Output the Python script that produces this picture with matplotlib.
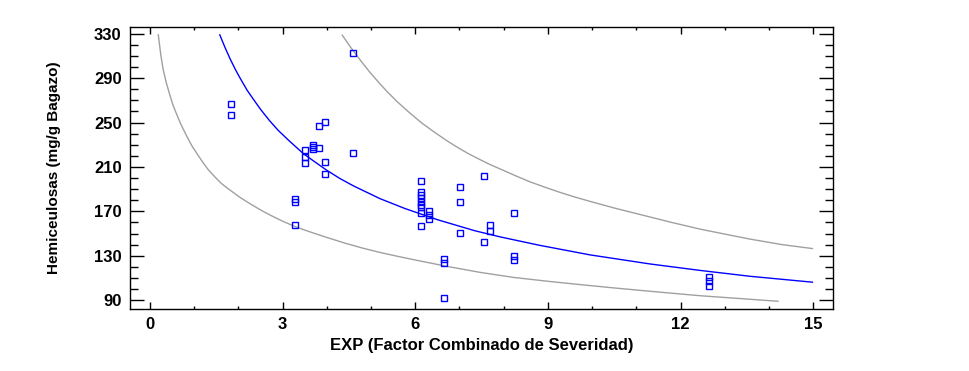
import matplotlib
matplotlib.use("Agg")
import matplotlib.pyplot as plt
from matplotlib.ticker import MultipleLocator

# observed points (EXP, hemicelulosas)
exp_obs = [1.84, 1.84,
           3.29, 3.29, 3.29,
           3.51, 3.51, 3.51,
           3.69, 3.69, 3.69,
           3.83, 3.83,
           3.97, 3.97, 3.97,
           4.60, 4.60,
           6.14, 6.14, 6.14, 6.14, 6.14, 6.14, 6.14, 6.14, 6.14,
           6.30, 6.30, 6.30,
           6.64, 6.64, 6.64,
           7.02, 7.02, 7.02,
           7.56, 7.56,
           7.68, 7.68,
           8.24, 8.24, 8.24,
           12.65, 12.65, 12.65]
hemi_obs = [266.8, 256.9,
            181.0, 178.0, 157.3,
            225.7, 219.0, 213.4,
            230.0, 227.8, 226.0,
            246.7, 227.5,
            250.9, 214.9, 203.5,
            312.7, 223.0,
            197.4, 187.3, 184.6, 181.9, 178.8, 176.0, 173.5, 168.2, 156.6,
            169.9, 166.3, 163.2,
            127.2, 123.6, 92.1,
            191.8, 178.0, 150.6,
            201.4, 142.2,
            157.3, 152.4,
            168.1, 129.9, 125.8,
            111.3, 107.4, 102.6]

# fitted model
fit_x = [1.58, 1.70, 1.81, 1.93, 2.04, 2.20, 2.34, 2.50, 2.71, 2.90, 3.15, 3.47,
         3.75, 4.00, 4.30, 4.60, 5.20, 5.77, 6.50, 7.35, 7.92, 8.80, 9.95, 11.31,
         12.44, 13.57, 14.98]
fit_y = [329.0, 317.5, 307.7, 298.0, 290.0, 279.0, 271.0, 262.0, 251.5, 243.0,
         233.5, 222.0, 214.0, 207.0, 199.5, 193.0, 181.5, 172.5, 162.5, 152.5,
         147.0, 139.5, 130.8, 122.6, 116.8, 111.5, 106.2]

# prediction limits
upper_x = [4.35, 4.50, 4.60, 4.80, 4.98, 5.20, 5.36, 5.60, 5.88, 6.15, 6.41, 6.70,
           6.94, 7.20, 7.47, 7.70, 7.96, 8.30, 8.60, 8.95, 9.28, 9.60, 9.95, 10.5,
           11.2, 11.8, 12.44, 13.0, 13.57, 14.3, 14.98]
upper_y = [328.7, 320.0, 314.5, 304.0, 295.0, 285.0, 278.0, 268.5, 258.5, 249.5,
           242.0, 234.0, 228.0, 222.0, 216.5, 212.0, 207.5, 201.5, 196.5, 191.5,
           187.0, 183.0, 179.0, 173.0, 166.0, 160.0, 154.0, 149.5, 145.0, 140.0,
           136.5]
lower_x = [0.19, 0.25, 0.30, 0.37, 0.45, 0.52, 0.60, 0.70, 0.83, 0.95, 1.09, 1.20,
           1.32, 1.47, 1.62, 1.80, 2.04, 2.30, 2.56, 2.80, 3.02, 3.30, 3.62, 4.00,
           4.40, 4.80, 5.20, 5.60, 5.96, 6.71, 7.47, 8.22, 9.00, 9.73, 10.5, 11.31,
           12.44, 13.57, 14.2]
lower_y = [329.0, 310.0, 298.0, 286.0, 275.0, 266.0, 258.0, 248.5, 238.0, 229.0,
           220.5, 214.0, 207.5, 201.0, 195.0, 189.5, 182.5, 176.0, 170.0, 165.0,
           160.8, 156.0, 151.5, 146.5, 141.5, 137.0, 133.0, 129.5, 126.5, 120.5,
           115.0, 110.5, 107.0, 104.0, 101.0, 98.0, 94.0, 90.8, 89.0]

x_ticks = [0, 3, 6, 9, 12, 15]
y_ticks = [90, 130, 170, 210, 250, 290, 330]

plt.rcParams['font.family'] = ['Liberation Sans', 'DejaVu Sans']

fig = plt.figure(figsize=(9.7, 3.71), dpi=100)
ax = fig.add_axes([0.134, 0.167, 0.725, 0.760])

ax.plot(upper_x, upper_y, color='#a0a0a0', lw=1.0)
ax.plot(lower_x, lower_y, color='#a0a0a0', lw=1.0)
ax.plot(fit_x, fit_y, color='#0000ff', lw=1.0)
ax.plot(exp_obs, hemi_obs, ls='none', marker='s', markersize=4,
        markerfacecolor='none', markeredgecolor='#0000ff', markeredgewidth=1.0)

ax.set_xlim(-0.45, 15.45)
ax.set_ylim(82, 336)
ax.set_xticks(x_ticks)
ax.set_yticks(y_ticks)
ax.xaxis.set_minor_locator(MultipleLocator(1))
ax.yaxis.set_minor_locator(MultipleLocator(10))

ax.tick_params(which='both', direction='in', top=True, right=True,
               labelsize=12, width=1.0)
ax.tick_params(axis='y', which='major', length=10, pad=6)
ax.tick_params(axis='y', which='minor', length=6)
ax.tick_params(axis='x', which='major', length=5, pad=6)
ax.tick_params(axis='x', which='minor', length=2.5)
for lab in ax.get_xticklabels() + ax.get_yticklabels():
    lab.set_fontweight('bold')
for sp in ax.spines.values():
    sp.set_linewidth(1.0)

ax.set_xlabel('EXP (Factor Combinado de Severidad)', fontsize=12,
              fontweight='bold', labelpad=4)
ax.set_ylabel('Hemiceulosas (mg/g Bagazo)', fontsize=11,
              fontweight='bold', labelpad=24)

fig.savefig('out.png', dpi=100)
